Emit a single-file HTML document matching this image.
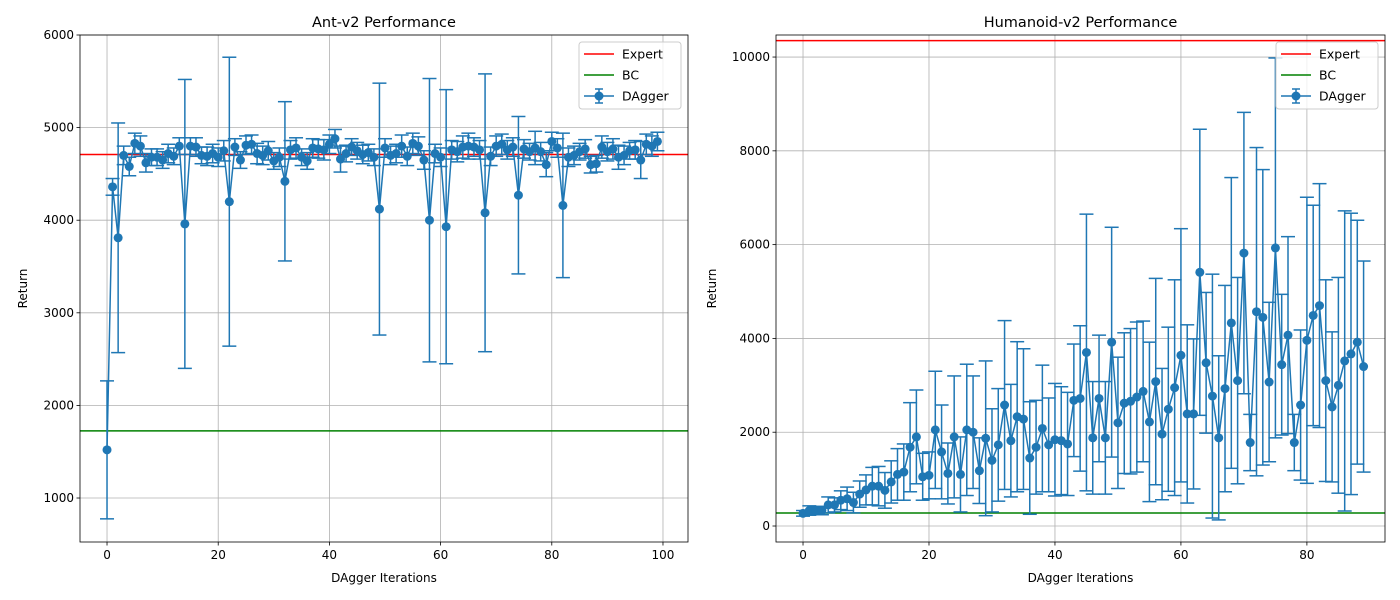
<!DOCTYPE html>
<html><head><meta charset="utf-8"><style>
body{margin:0;background:#fff}
svg{display:block;font-family:"DejaVu Sans","Liberation Sans",sans-serif}
</style></head><body>
<svg id="c" width="1400" height="600" xmlns="http://www.w3.org/2000/svg"></svg>
<script>
const antMeans=[1520,4360,3810,4700,4580,4830,4800,4620,4680,4680,4650,4720,4690,4800,3960,4800,4790,4700,4690,4720,4680,4750,4200,4790,4650,4810,4820,4720,4700,4750,4640,4680,4420,4760,4780,4680,4640,4780,4770,4760,4820,4880,4660,4720,4790,4750,4710,4730,4680,4120,4780,4700,4720,4800,4690,4830,4800,4650,4000,4720,4680,3930,4760,4740,4790,4800,4790,4760,4080,4690,4800,4820,4760,4790,4270,4770,4740,4780,4740,4600,4850,4780,4160,4680,4700,4740,4770,4600,4610,4790,4740,4770,4680,4700,4750,4760,4650,4820,4800,4850];
const antErr=[745,90,1240,100,100,110,110,100,90,90,90,100,90,90,1560,90,100,90,100,100,100,110,1560,90,90,100,100,110,100,100,90,100,860,100,110,90,90,100,100,110,100,100,140,90,90,90,100,90,90,1360,100,100,100,120,100,110,100,100,1530,100,100,1480,100,110,120,140,100,100,1500,100,110,110,100,100,850,100,90,180,100,130,100,100,780,100,100,90,100,90,90,120,100,110,130,100,90,100,200,110,110,100];
const antExpert=4710, antBC=1725;
const humMeans=[270,330,330,330,450,450,550,580,500,680,770,850,850,760,940,1100,1150,1680,1900,1050,1080,2050,1580,1120,1900,1100,2050,2000,1180,1870,1400,1730,2580,1820,2330,2280,1450,1680,2080,1730,1840,1820,1750,2680,2720,3700,1880,2720,1880,3920,2200,2620,2660,2750,2870,2220,3080,1960,2490,2950,3640,2390,2390,5410,3480,2770,1880,2930,4330,3100,5820,1780,4570,4450,3070,5930,3440,4070,1780,2580,3960,4490,4700,3100,2540,3000,3520,3670,3920,3400];
const humErr=[60,100,80,90,170,150,200,250,220,280,320,400,420,380,450,550,600,950,1000,500,500,1250,1000,650,1300,800,1400,1200,700,1650,1100,1200,1800,1200,1600,1500,1200,1000,1350,1000,1200,1150,1100,1200,1550,2950,1200,1350,1200,2450,1400,1500,1550,1600,1500,1700,2200,1400,1750,2300,2700,1900,1600,3050,1500,2600,1750,2200,3100,2200,3000,600,3500,3150,1700,4050,1500,2100,600,1600,3050,2350,2600,2150,1600,2300,3200,3000,2600,2250];
const humExpert=10350, humBC=277;
const antXTicks=[0,20,40,60,80,100], antYTicks=[1000,2000,3000,4000,5000,6000];
const humXTicks=[0,20,40,60,80], humYTicks=[0,2000,4000,6000,8000,10000];

const svg=document.getElementById('c');
const NS='http://www.w3.org/2000/svg';
function el(t,a,p){const e=document.createElementNS(NS,t);for(const k in a)e.setAttribute(k,a[k]);(p||svg).appendChild(e);return e;}

function panel(o){
  const g=el('g',{});
  
  
  const X=v=>o.L+(v-o.x0)/(o.x1-o.x0)*(o.R-o.L);
  const Y=v=>o.B-(v-o.y0)/(o.y1-o.y0)*(o.B-o.T);
  el('rect',{x:o.L,y:o.T,width:o.R-o.L,height:o.B-o.T,fill:'#fff'},g);
  o.xt.forEach(t=>{const x=X(t);
    const gl=el('line',{x1:x,x2:x,y1:o.T,y2:o.B,stroke:'#b0b0b0','stroke-width':0.8},g);
    
    el('line',{x1:x,x2:x,y1:o.B,y2:o.B+3.5,stroke:'#000','stroke-width':0.8},g);
    const tx=el('text',{x:x,y:o.B+17,'text-anchor':'middle','font-size':12},g);tx.textContent=t;
    });
  o.yt.forEach(t=>{const y=Y(t);
    const gl=el('line',{x1:o.L,x2:o.R,y1:y,y2:y,stroke:'#b0b0b0','stroke-width':0.8},g);
    
    el('line',{x1:o.L-3.5,x2:o.L,y1:y,y2:y,stroke:'#000','stroke-width':0.8},g);
    const tx=el('text',{x:o.L-6,y:y+4,'text-anchor':'end','font-size':12},g);tx.textContent=t;
    });
  const ex=el('line',{x1:o.L,x2:o.R,y1:Y(o.expert),y2:Y(o.expert),stroke:'red','stroke-width':1.5},g);
  
  const bc=el('line',{x1:o.L,x2:o.R,y1:Y(o.bc),y2:Y(o.bc),stroke:'green','stroke-width':1.5},g);
  
  const c='#1f77b4';
  o.m.forEach((v,i)=>{const x=X(i);
    const eb=el('g',{stroke:c,'stroke-width':1.5},g);
    
    el('line',{x1:x,x2:x,y1:Y(v-o.e[i]),y2:Y(v+o.e[i])},eb);
    el('line',{x1:x-7,x2:x+7,y1:Y(v-o.e[i]),y2:Y(v-o.e[i])},eb);
    el('line',{x1:x-7,x2:x+7,y1:Y(v+o.e[i]),y2:Y(v+o.e[i])},eb);});
  const pl=el('polyline',{points:o.m.map((v,i)=>X(i)+','+Y(v)).join(' '),fill:'none',stroke:c,'stroke-width':1.5},g);
  
  o.m.forEach((v,i)=>{const p=el('circle',{cx:X(i),cy:Y(v),r:4.5,fill:c},g);
    });
  el('rect',{x:o.L,y:o.T,width:o.R-o.L,height:o.B-o.T,fill:'none',stroke:'#000','stroke-width':0.8},g);
  const ti=el('text',{x:(o.L+o.R)/2,y:o.T-8,'text-anchor':'middle','font-size':14.5},g);ti.textContent=o.title;
  
  const xl=el('text',{x:(o.L+o.R)/2,y:o.B+40,'text-anchor':'middle','font-size':12},g);xl.textContent='DAgger Iterations';
  
  const yx=o.L-(o.yw);
  const yl=el('text',{x:yx,y:(o.T+o.B)/2,'text-anchor':'middle','font-size':12,transform:`rotate(-90 ${yx} ${(o.T+o.B)/2})`},g);yl.textContent='Return';
  
  const lg=el('g',{},g);
  const lx=o.R-109,ly=o.T+7;
  el('rect',{x:lx,y:ly,width:102,height:67,rx:3,fill:'#fff','fill-opacity':0.8,stroke:'#ccc'},lg);
  [['Expert','red'],['BC','green'],['DAgger',c]].forEach((d,k)=>{const yy=ly+12+k*21;
    el('line',{x1:lx+5,x2:lx+35,y1:yy,y2:yy,stroke:d[1],'stroke-width':1.5},lg);
    if(k==2){el('circle',{cx:lx+20,cy:yy,r:4.5,fill:c},lg);el('line',{x1:lx+20,x2:lx+20,y1:yy-7,y2:yy+7,stroke:c,'stroke-width':1.5},lg);
      el('line',{x1:lx+16,x2:lx+24,y1:yy-7,y2:yy-7,stroke:c,'stroke-width':1.5},lg);el('line',{x1:lx+16,x2:lx+24,y1:yy+7,y2:yy+7,stroke:c,'stroke-width':1.5},lg);}
    const t=el('text',{x:lx+43,y:yy+4.5,'font-size':12.5},lg);t.textContent=d[0];
    });
}
panel({name:'ant-chart',title:'Ant-v2 Performance',L:80,R:688,T:35,B:542,x0:-4.86,x1:104.5,y0:525,y1:6000,xt:antXTicks,yt:antYTicks,m:antMeans,e:antErr,expert:antExpert,bc:antBC,yw:53});
panel({name:'humanoid-chart',title:'Humanoid-v2 Performance',L:776,R:1385,T:35,B:542,x0:-4.29,x1:92.4,y0:-341,y1:10470,xt:humXTicks,yt:humYTicks,m:humMeans,e:humErr,expert:humExpert,bc:humBC,yw:60});
</script>
</body></html>
